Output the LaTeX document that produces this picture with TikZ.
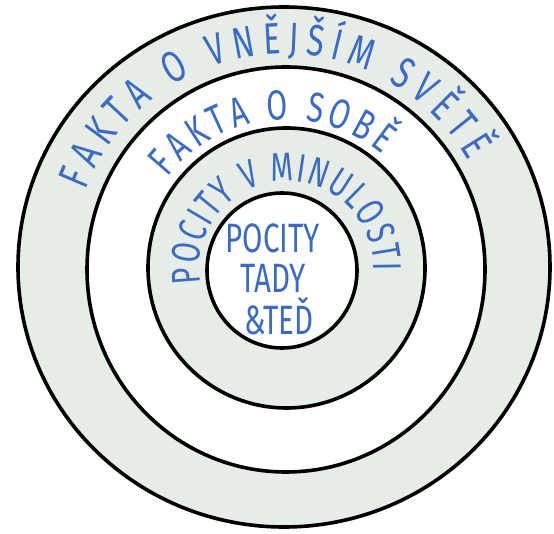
\documentclass[tikz,border=0pt]{standalone}
\usepackage{fontspec}
\newfontfamily\hand[FakeStretch=0.72]{Fira Sans}
\usetikzlibrary{decorations.text}
\definecolor{inkblue}{RGB}{60,107,194}
\definecolor{ringfill}{RGB}{230,236,230}
\tikzset{
  ring/.style={draw=black, line width=3.6pt},
  coretext/.style={text=inkblue, font=\hand\fontsize{41}{41}\selectfont, inner sep=0pt, anchor=base}
}
\begin{document}
\begin{tikzpicture}[x=1pt,y=1pt]
\useasboundingbox (0,0) rectangle (554,533);
% rings
\draw[ring, fill=ringfill] (284,266) ellipse [x radius=266, y radius=260];
\draw[ring, fill=white] (286,263.5) ellipse [x radius=199, y radius=202.5];
\draw[ring, fill=ringfill] (286.5,265) ellipse [x radius=138.5, y radius=140];
\draw[ring, fill=white] (282,262.5) ellipse [x radius=75, y radius=77.5];
% curved texts
\path[decorate, decoration={text along path, text align={fit to path}, text color=inkblue,
      text={|\hand\fontsize{44}{44}\selectfont|FAKTA O VNĚJŠÍM SVĚTĚ}}]
  (284,266) ++(159:213) arc[start angle=159, end angle=30, radius=213];
\path[decorate, decoration={text along path, text align={fit to path}, text color=inkblue,
      text={|\hand\fontsize{42}{42}\selectfont|FAKTA O SOBĚ}}]
  (286,263.5) ++(142:150) arc[start angle=142, end angle=50, radius=150];
\path[decorate, decoration={text along path, text align={fit to path}, text color=inkblue,
      text={|\hand\fontsize{40}{40}\selectfont|POCITY V MINULOSTI}}]
  (286.5,265) ++(190:87) arc[start angle=190, end angle=-2, radius=87];
% core text
\node[coretext] (l1) at (273,280) {POCITY};
\node[coretext] (l2) at (273,240) {TADY};
\node[coretext] (l3) at (279,198) {\&TEĎ};
\end{tikzpicture}
\end{document}
